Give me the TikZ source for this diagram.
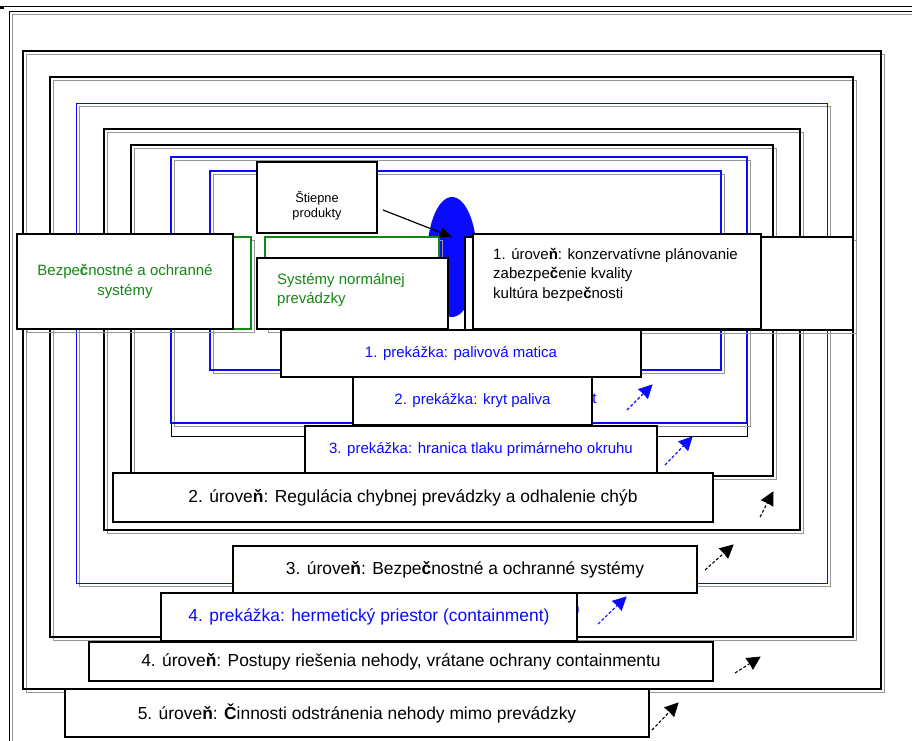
\documentclass[tikz,border=0pt]{standalone}
\usepackage{fontspec}
\setmainfont{Liberation Sans}
\usetikzlibrary{arrows.meta,calc}
\definecolor{sgreen}{RGB}{20,135,20}
\definecolor{sblue}{RGB}{10,10,255}
\definecolor{shadowgray}{RGB}{150,150,150}
\newcommand{\sfrm}[5]{%
  \draw[shadowgray,line width=1.3pt] (#2+3.5,#3+3.5) rectangle (#4+3.5,#5+3.5);
  \draw[#1] (#2,#3) rectangle (#4,#5);}
% dashed arrow with solid filled head: colour, start, end
\newcommand{\darrow}[3]{%
  \draw[#1,densely dashed,line width=1.1pt] (#2) -- ($(#3)!10pt!(#2)$);
  \filldraw[#1,line width=0.8pt,line join=miter] (#3) -- ($(#3)!14pt!27:(#2)$) -- ($(#3)!12pt!(#2)$) -- ($(#3)!14pt!-27:(#2)$) -- cycle;}
\begin{document}
\begin{tikzpicture}[x=1pt,y=-1pt,
  tbox/.style={draw=black,fill=white,line width=1.6pt,inner sep=0pt,outer sep=0pt},
  big/.style={font=\fontsize{17.4}{21}\selectfont},
  mid/.style={font=\fontsize{15}{19.5}\selectfont},
  small/.style={font=\fontsize{12.8}{15.5}\selectfont},
  bluetxt/.style={text=sblue},
  greentxt/.style={text=sgreen}
]
\fill[white] (0,0) rectangle (912,740);
\useasboundingbox (0,0) rectangle (912,740);
\clip (0,0) rectangle (912,740);

% top rule
\draw[line width=1pt] (0,6) -- (912,6);
\fill (0,5.5) rectangle (4,8.5);

% nested frames
\sfrm{line width=1pt}{9}{11}{940}{760}
\sfrm{line width=1.8pt}{23}{51}{881}{689}
\sfrm{line width=1.5pt}{50}{77}{853}{637}
\sfrm{draw=sblue,line width=1pt}{76}{103}{827}{583}
\sfrm{line width=2pt}{104}{129}{800}{530}
\sfrm{line width=1.5pt}{131}{145}{773}{476}
\draw[line width=0.9pt] (171,157) rectangle (747,436);
\sfrm{draw=sblue,line width=1.6pt}{171}{157}{747}{423}
\sfrm{draw=sblue,line width=2pt}{210}{171}{721}{370}

% fuel (blue ellipse)
\fill[sblue] (452,257) ellipse [x radius=25pt, y radius=60pt];

% green boxes
\sfrm{draw=sgreen,fill=white,line width=1.3pt}{24}{237}{251}{329}
\sfrm{draw=sgreen,fill=white,line width=1.3pt}{265}{237}{439}{329}

% fission products
\node[tbox,minimum width=120pt,minimum height=71pt] (stiepne) at (317,197.5) {};
\node[small,align=center,inner sep=0pt] (stiepnetxt) at (317,205.5) {Štiepne\\produkty};
\coordinate (fpA) at (383,210);
\coordinate (fpB) at (452,237);
\draw[line width=1.2pt,-{Triangle[length=12pt,width=10pt]}] (fpA) -- (fpB);

% level 1 boxes
\draw[shadowgray,line width=1.3pt] (468.5,240.5) rectangle (856.5,333.5);
\node[tbox,minimum width=388pt,minimum height=93pt] (lvlonebg) at (659,283.5) {};
\node[tbox,minimum width=288pt,minimum height=95pt] (lvlone) at (617,281.5) {};
\node[mid,anchor=north west,align=left,inner sep=0pt] (lvlonetxt) at (493,248)
  {1. úrove\textbf{ň}: konzervatívne plánovanie\\zabezpe\textbf{č}enie kvality\\kultúra bezpe\textbf{č}nosti};

% systems boxes
\node[tbox,mid,greentxt,align=center,minimum width=216pt,minimum height=95pt] (safety) at (125,281.5)
  {Bezpe\textbf{č}nostné a ochranné\\systémy};
\node[tbox,minimum width=191pt,minimum height=71pt] (normal) at (352.5,293.5) {};
\node[mid,greentxt,anchor=west,align=left,inner sep=0pt] (normaltxt) at (277,290)
  {Systémy normálnej\\prevádzky};

% barriers 1-3
\node[tbox,mid,bluetxt,minimum width=360pt,minimum height=47pt] (barone) at (461,353.5)
  {1. prekážka: palivová matica};
\node[mid,bluetxt,inner sep=0pt] (hiddent) at (594.5,399) {t};
\node[tbox,mid,bluetxt,minimum width=239pt,minimum height=48pt] (bartwo) at (472.5,401)
  {2. prekážka: kryt paliva};
\node[tbox,mid,bluetxt,minimum width=352pt,minimum height=47pt] (barthree) at (481,449.5)
  {3. prekážka: hranica tlaku primárneho okruhu};

% level 2, 3
\node[tbox,big,minimum width=600pt,minimum height=49pt] (lvltwo) at (413,497.5)
  {2. úrove\textbf{ň}: Regulácia chybnej prevádzky a odhalenie chýb};
\node[tbox,big,minimum width=464pt,minimum height=47pt] (lvlthree) at (465,569.5)
  {3. úrove\textbf{ň}: Bezpe\textbf{č}nostné a ochranné systémy};

% barrier 4
\node[big,bluetxt,inner sep=0pt] (hiddenpar) at (577,610) {)};
\node[tbox,big,bluetxt,minimum width=416pt,minimum height=48pt] (barfour) at (369,617)
  {4. prekážka: hermetický priestor (containment)};

% level 4, 5
\node[tbox,big,minimum width=624pt,minimum height=39pt] (lvlfour) at (401,661.5)
  {4. úrove\textbf{ň}: Postupy riešenia nehody, vrátane ochrany containmentu};
\node[tbox,big,minimum width=584pt,minimum height=48pt] (lvlfive) at (357,713)
  {5. úrove\textbf{ň}: \textbf{Č}innosti odstránenia nehody mimo prevádzky};

% small arrows
\coordinate (aoneS) at (627,410);   \coordinate (aoneE) at (652,385);
\coordinate (atwoS) at (665,465);   \coordinate (atwoE) at (692,437);
\coordinate (athrS) at (760,517);   \coordinate (athrE) at (773,492);
\coordinate (afouS) at (705,570);   \coordinate (afouE) at (733,545);
\coordinate (afivS) at (598,624);   \coordinate (afivE) at (626,597);
\coordinate (asixS) at (735,673);   \coordinate (asixE) at (760,657);
\coordinate (asevS) at (652,730);   \coordinate (asevE) at (678,703);
\darrow{sblue}{aoneS}{aoneE}
\darrow{sblue}{atwoS}{atwoE}
\darrow{black}{athrS}{athrE}
\darrow{black}{afouS}{afouE}
\darrow{sblue}{afivS}{afivE}
\darrow{black}{asixS}{asixE}
\darrow{black}{asevS}{asevE}
\end{tikzpicture}
\end{document}
